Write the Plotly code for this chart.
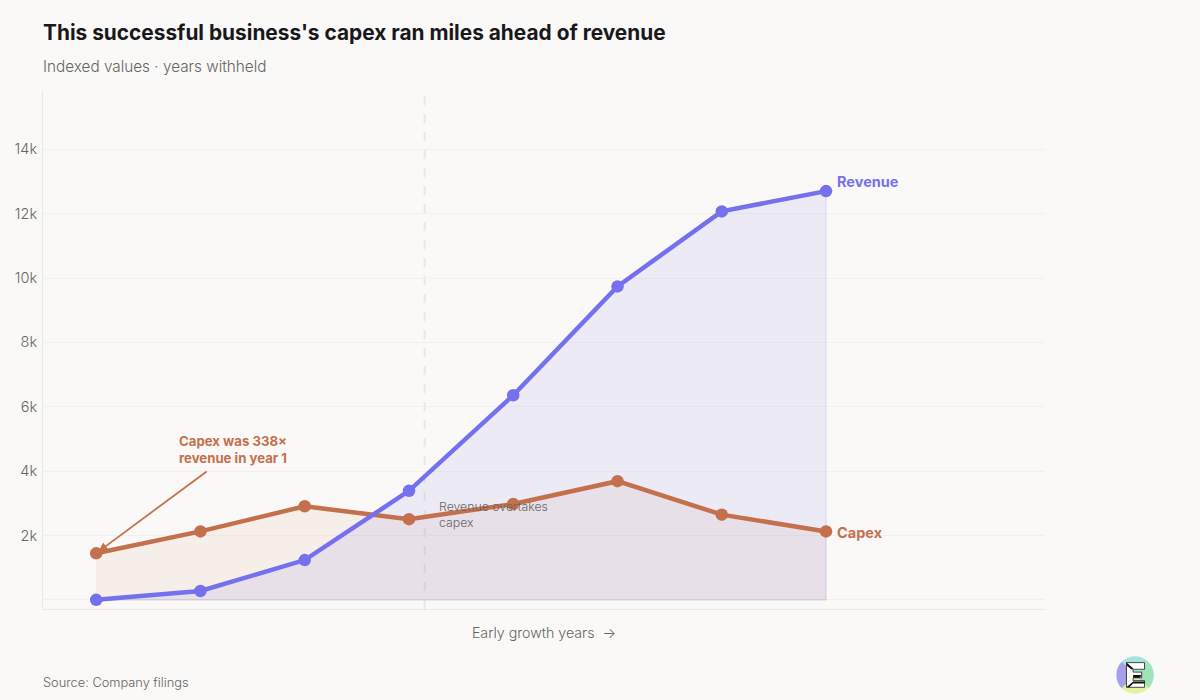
import base64
import plotly.graph_objects as go

# values (years are withheld, so x is just a position)
years = [0, 1, 2, 3, 4, 5, 6, 7]
revenue = [4, 280, 1240, 3390, 6360, 9740, 12070, 12700]
capex = [1450, 2130, 2910, 2510, 2980, 3690, 2650, 2130]
y_ticks = [0, 2000, 4000, 6000, 8000, 10000, 12000, 14000]
y_labels = ['', '2k', '4k', '6k', '8k', '10k', '12k', '14k']
crossover_x = 3.15

PURPLE = '#7570EE'
ORANGE = '#C4704D'
GREY = '#666560'
BG = '#FAF9F7'
FONT = 'Inter'

# small round logo, drawn as svg
logo_svg = """<svg xmlns="http://www.w3.org/2000/svg" viewBox="0 0 40 40">
<path d="M20 20 L6 6 A20 20 0 0 1 34 6 Z" fill="#A5E3DF"/>
<path d="M20 20 L34 6 A20 20 0 0 1 34 34 Z" fill="#9FE3B8"/>
<path d="M20 20 L34 34 A20 20 0 0 1 6 34 Z" fill="#E2F2A0"/>
<path d="M20 20 L6 34 A20 20 0 0 1 6 6 Z" fill="#A5A0E8"/>
<path d="M11 7 H30 V14 H18 V17 H27 V23 H18 V26 H30 V33 H11 Z" fill="#ffffff" stroke="#111111" stroke-width="0.8"/>
<path d="M11 7 L18 13 V14 H16 L11 10 Z M18 20 H27 L25 23 H18 Z M11 33 L18 27 H30 V29 H18 L14 33 Z" fill="#111111"/>
</svg>"""
logo_uri = 'data:image/svg+xml;base64,' + base64.b64encode(logo_svg.encode()).decode()

fig = go.Figure()

# shaded areas closed down to zero, so the thin edge shows on the right and bottom
fig.add_trace(go.Scatter(
    x=years + [years[-1], years[0]],
    y=capex + [0, 0],
    mode='lines',
    fill='toself',
    fillcolor='rgba(196,112,77,0.08)',
    line=dict(color='rgba(196,112,77,0.12)', width=1),
    hoverinfo='skip',
    showlegend=False,
))
fig.add_trace(go.Scatter(
    x=years + [years[-1], years[0]],
    y=revenue + [0, 0],
    mode='lines',
    fill='toself',
    fillcolor='rgba(117,112,238,0.10)',
    line=dict(color='rgba(117,112,238,0.18)', width=1),
    hoverinfo='skip',
    showlegend=False,
))

# the two lines
fig.add_trace(go.Scatter(
    x=years,
    y=capex,
    mode='lines+markers',
    name='Capex',
    line=dict(color=ORANGE, width=4.5),
    marker=dict(color=ORANGE, size=12.5),
    showlegend=False,
))
fig.add_trace(go.Scatter(
    x=years,
    y=revenue,
    mode='lines+markers',
    name='Revenue',
    line=dict(color=PURPLE, width=4.5),
    marker=dict(color=PURPLE, size=12.5),
    showlegend=False,
))

# dashed marker where revenue overtakes capex
fig.add_shape(
    type='line',
    xref='x',
    yref='paper',
    x0=crossover_x,
    x1=crossover_x,
    y0=0,
    y1=0.992,
    line=dict(color='#E9E7E4', width=2, dash='dash'),
    layer='below',
)

# end labels
fig.add_annotation(x=years[-1], y=revenue[-1], text='<b>Revenue</b>', showarrow=False,
                   xanchor='left', xshift=9, yshift=10,
                   font=dict(family=FONT, size=14.5, color=PURPLE))
fig.add_annotation(x=years[-1], y=capex[-1], text='<b>Capex</b>', showarrow=False,
                   xanchor='left', xshift=9, yshift=-1,
                   font=dict(family=FONT, size=14.5, color=ORANGE))

# callouts
fig.add_annotation(x=years[0], y=capex[0], text='', showarrow=True, arrowhead=2, arrowsize=1,
                   arrowwidth=1.8, arrowcolor=ORANGE, axref='pixel', ayref='pixel',
                   ax=112, ay=-83, standoff=3)
fig.add_annotation(xref='paper', yref='paper', x=0.1357, y=0.272, xshift=-2, yanchor='bottom',
                   text='<b>Capex was 338×<br>revenue in year 1</b>', showarrow=False,
                   align='left', xanchor='left',
                   font=dict(family=FONT, size=13.2, color=ORANGE))
fig.add_annotation(x=crossover_x + 0.15, y=2660, xshift=-3, text='Revenue overtakes<br>capex', showarrow=False,
                   align='left', xanchor='left', yanchor='middle',
                   font=dict(family=FONT, size=12.3, color=GREY, weight=300))

# heading and source
fig.add_annotation(xref='paper', yref='paper', x=0, y=1.1156, xshift=-2, yshift=-2, yanchor='middle', xanchor='left',
                   text="<b>This successful business's capex ran miles ahead of revenue</b>",
                   showarrow=False, font=dict(family=FONT, size=20.85, color='#18181B'))
fig.add_annotation(xref='paper', yref='paper', x=0, y=1.0482, xshift=-2, yshift=-2, yanchor='middle', xanchor='left',
                   text='Indexed values · years withheld',
                   showarrow=False, font=dict(family=FONT, size=15.3, color=GREY, weight=300))
fig.add_annotation(xref='paper', yref='paper', x=0, y=-0.1407, xshift=-2, yanchor='middle', xanchor='left',
                   text='Source: Company filings',
                   showarrow=False, font=dict(family=FONT, size=12.8, color=GREY, weight=300))

fig.add_layout_image(dict(
    source=logo_uri, xref='paper', yref='paper',
    x=1.0699, y=-0.0905, sizex=0.0399, sizey=0.0732,
    xanchor='left', yanchor='top', sizing='contain', layer='above',
))

fig.update_layout(
    width=1200,
    height=700,
    margin=dict(l=43, r=155, t=90, b=91),
    paper_bgcolor=BG,
    plot_bgcolor=BG,
    font=dict(family=FONT, color=GREY),
    xaxis=dict(
        range=[-0.51, 9.1],
        showticklabels=False,
        ticks='',
        showgrid=False,
        zeroline=False,
        showline=True,
        linecolor='#EAE8E5',
        linewidth=1,
        title=dict(text='Early growth years  →', standoff=19,
                   font=dict(family=FONT, size=14.2, color=GREY, weight=300)),
    ),
    yaxis=dict(
        range=[-280, 15840],
        tickvals=y_ticks,
        ticktext=y_labels,
        tickfont=dict(family=FONT, size=14.5, color=GREY, weight=300),
        ticks='',
        ticklabelstandoff=2,
        showgrid=True,
        gridcolor='#F2F0ED',
        gridwidth=1,
        zeroline=False,
        showline=True,
        linecolor='#EAE8E5',
        linewidth=1,
    ),
)

# page margin off so the figure fills the window
fig.write_html('out.html', config={'displayModeBar': False},
               post_script="document.body.style.margin='0';")
